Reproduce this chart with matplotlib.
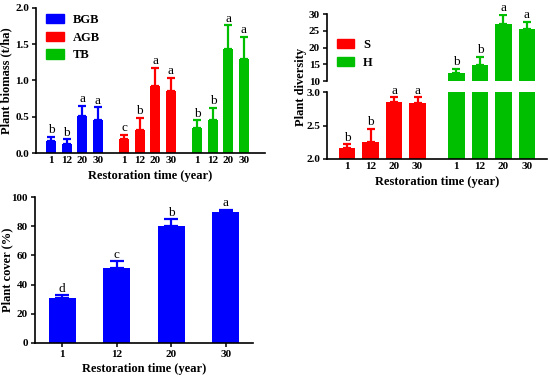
import numpy as np
import matplotlib.pyplot as plt

plt.rcParams['font.family'] = ['Liberation Serif', 'DejaVu Serif']
plt.rcParams['font.weight'] = 'bold'

BLUE = '#0000FF'
RED = '#FF0000'
GREEN = '#00BF00'

years = ['1', '12', '20', '30']

# biomass (t/ha)
bgb = [0.16, 0.12, 0.51, 0.45]
bgb_err = [0.06, 0.07, 0.14, 0.18]
agb = [0.19, 0.32, 0.93, 0.85]
agb_err = [0.06, 0.16, 0.24, 0.19]
tb = [0.35, 0.45, 1.44, 1.30]
tb_err = [0.10, 0.17, 0.32, 0.30]
bgb_lab = ['b', 'b', 'a', 'a']
agb_lab = ['c', 'b', 'a', 'a']
tb_lab = ['b', 'b', 'a', 'a']

# diversity
s_div = [2.17, 2.255, 2.845, 2.835]
s_err = [0.05, 0.20, 0.075, 0.085]
h_div = [12.3, 14.9, 26.9, 25.4]
h_err = [1.3, 2.4, 2.7, 2.1]
s_lab = ['b', 'b', 'a', 'a']
h_lab = ['b', 'b', 'a', 'a']

# cover (%)
cover = [31.0, 51.4, 79.9, 89.5]
cover_err = [1.6, 4.8, 5.0, 1.8]
cover_lab = ['d', 'c', 'b', 'a']

TICK_FS = 8
LAB_FS = 9
LEG_FS = 9
LET_FS = 9.5


def style(ax):
    for s in ['top', 'right']:
        ax.spines[s].set_visible(False)
    ax.tick_params(direction='out', length=3, width=1.1, labelsize=TICK_FS, pad=2)
    for s in ['left', 'bottom']:
        ax.spines[s].set_linewidth(1.2)


def bars(ax, x, y, err, color, width, labels, off, capsize=3):
    ax.bar(x, y, width=width, color=color, zorder=2)
    ax.errorbar(x, y, yerr=[np.zeros(len(y)), err], fmt='none', ecolor=color,
                elinewidth=1.6, capsize=capsize, capthick=1.6, zorder=3)
    for xi, yi, ei, lab in zip(x, y, err, labels):
        ax.text(xi, yi + ei + off, lab, ha='center', va='bottom',
                fontsize=LET_FS, fontweight='normal')


def patches(colors):
    return [plt.Rectangle((0, 0), 1, 1, color=c) for c in colors]


fig = plt.figure(figsize=(5.5, 3.79), dpi=100)

# ---- Panel A: biomass ----
axA = fig.add_axes([0.0655, 0.5963, 0.4163, 0.3826])
style(axA)
w = 0.65
xb = np.arange(4)
xa = xb + 4.7
xt = xb + 9.4
bars(axA, xb, bgb, bgb_err, BLUE, w, bgb_lab, 0.01)
bars(axA, xa, agb, agb_err, RED, w, agb_lab, 0.01)
bars(axA, xt, tb, tb_err, GREEN, w, tb_lab, 0.01)
axA.set_xlim(-0.97, 13.75)
axA.set_ylim(0, 2.0)
axA.set_yticks([0, 0.5, 1.0, 1.5, 2.0])
axA.set_yticklabels(['0.0', '0.5', '1.0', '1.5', '2.0'])
axA.set_xticks(np.concatenate([xb, xa, xt]))
axA.set_xticklabels(years * 3)
axA.tick_params(axis='x', length=0)
axA.set_ylabel('Plant biomass (t/ha)', fontsize=LAB_FS, fontweight='bold', labelpad=2)
axA.set_xlabel('Restoration time (year)', fontsize=LAB_FS, fontweight='bold', labelpad=4)
axA.legend(patches([BLUE, RED, GREEN]), ['BGB', 'AGB', 'TB'], loc='upper left',
           frameon=False, fontsize=LEG_FS, handlelength=1.4, handleheight=0.8,
           borderpad=0, borderaxespad=0, labelspacing=0.45, handletextpad=0.7,
           bbox_to_anchor=(0.045, 0.96))

# ---- Panel B: diversity (broken axis) ----
xs = np.arange(4)
xh = xs + 4.65
wb = 0.7
xlimB = (-0.85, 8.5)
axU = fig.add_axes([0.5945, 0.786, 0.40, 0.177])
axL = fig.add_axes([0.5945, 0.5805, 0.40, 0.1765])
style(axU)
style(axL)
axU.spines['bottom'].set_visible(False)
axU.tick_params(axis='x', bottom=False, labelbottom=False)

bars(axU, xh, h_div, h_err, GREEN, wb, h_lab, 0.3)
axU.set_xlim(*xlimB)
axU.set_ylim(10, 30)
axU.set_yticks([10, 15, 20, 25, 30])

bars(axL, xs, s_div, s_err, RED, wb, s_lab, 0.01)
axL.bar(xh, [3.5] * 4, width=wb, color=GREEN, zorder=2)
axL.set_xlim(*xlimB)
axL.set_ylim(2.0, 3.0)
axL.set_yticks([2.0, 2.5, 3.0])
axL.set_yticklabels(['2.0', '2.5', '3.0'])
axL.set_xticks(np.concatenate([xs, xh]))
axL.set_xticklabels(years * 2)
axL.tick_params(axis='x', length=0)
axL.set_xlabel('Restoration time (year)', fontsize=LAB_FS, fontweight='bold', labelpad=4)
fig.text(0.548, 0.77, 'Plant diversity', rotation=90, ha='center', va='center',
         fontsize=LAB_FS, fontweight='bold')
axU.legend(patches([RED, GREEN]), ['S', 'H'], loc='upper left', frameon=False,
           fontsize=LEG_FS, handlelength=1.4, handleheight=0.8,
           borderpad=0, borderaxespad=0, labelspacing=0.45, handletextpad=0.7,
           bbox_to_anchor=(0.045, 0.63))

# ---- Panel C: cover ----
axC = fig.add_axes([0.0636, 0.095, 0.3964, 0.385])
style(axC)
xc = np.arange(4)
bars(axC, xc, cover, cover_err, BLUE, 0.49, cover_lab, 0.3, capsize=5)
axC.set_xlim(-0.5, 3.5)
axC.set_ylim(0, 100)
axC.set_yticks([0, 20, 40, 60, 80, 100])
axC.set_xticks(xc)
axC.set_xticklabels(years)
axC.set_ylabel('Plant cover (%)', fontsize=LAB_FS, fontweight='bold')
axC.yaxis.set_label_coords(-0.098, 0.5)
axC.set_xlabel('Restoration time (year)', fontsize=LAB_FS, fontweight='bold', labelpad=3)

fig.savefig('out.png', dpi=100)
